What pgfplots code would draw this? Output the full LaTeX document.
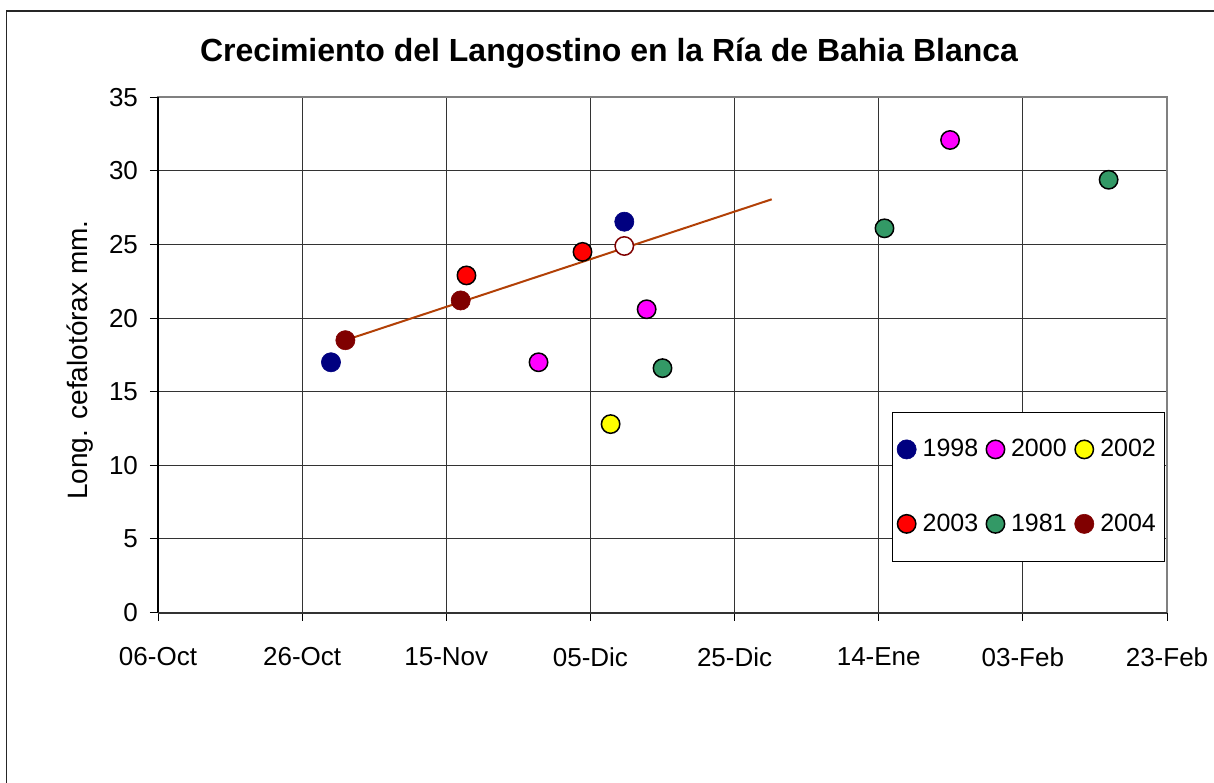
\documentclass[border=0pt]{standalone}
\usepackage{pgfplots}
\pgfplotsset{compat=1.18}
\usepackage{fontspec}
\setmainfont{Liberation Sans}
\definecolor{c1998}{RGB}{0,0,128}
\definecolor{c2000}{RGB}{255,0,255}
\definecolor{c2002}{RGB}{255,255,0}
\definecolor{c2003}{RGB}{255,0,0}
\definecolor{c1981}{RGB}{51,153,102}
\definecolor{c2004}{RGB}{128,0,0}
\definecolor{trend}{RGB}{178,64,6}

\begin{document}
\begin{tikzpicture}
  \useasboundingbox (0,0) rectangle (607pt,-391pt);
  % outer chart frame, runs past the page on the right and bottom
  \draw[black!85, line width=0.75pt] (3.2pt,-5.6pt) rectangle (640pt,-420pt);
  \node[anchor=base, font=\bfseries\fontsize{16}{19}\selectfont]
    at (304.5pt,-30.85pt) {Crecimiento del Langostino en la Ría de Bahia Blanca};
  \begin{axis}[
      at={(79pt,-306.25pt)}, anchor=south west,
      scale only axis, width=504.5pt, height=257.6pt,
      xmin=0, xmax=140, ymin=0, ymax=35,
      xtick={0,20,...,140},
      xticklabels={06-Oct,26-Oct,15-Nov,05-Dic,25-Dic,14-Ene,03-Feb,23-Feb},
      ytick={0,5,...,35},
      xtick pos=bottom, ytick pos=left,
      grid=major,
      major grid style={black!80, line width=0.5pt},
      axis line style={draw=black!50, line width=0.9pt},
      tick align=outside, major tick length=4pt,
      tick style={black, line width=0.5pt},
      tick label style={font=\fontsize{13}{15}\selectfont},
      /pgf/number format/assume math mode=true,
      xticklabel style={yshift=-10pt},
      yticklabel style={xshift=-2.5pt},
      ylabel={Long. cefalotórax mm.},
      every axis y label/.style={at={(axis description cs:-0.0773,0.49)},
        rotate=90, anchor=center, font=\fontsize{14}{16}\selectfont},
      legend columns=3,
      legend image code/.code={\draw[#1] plot coordinates {(0pt,0pt)};},
      legend style={at={(axis description cs:0.727,0.3898)}, anchor=north west,
        draw=black, line width=0.5pt, fill=white,
        font=\fontsize{12.5}{14}\selectfont,
        inner xsep=2.5pt, inner ysep=11.5pt, row sep=23pt,
        /tikz/every odd column/.append style={column sep=1.2pt},
        /tikz/every even column/.append style={column sep=2pt}},
      after end axis/.code={
        \draw[black, line width=0.9pt] (rel axis cs:0,0) -- (rel axis cs:0,1);
        \draw[black!80, line width=1pt] (rel axis cs:0,0) -- (rel axis cs:1,0);
      },
    ]
    \addplot[trend, line width=1pt, forget plot] coordinates {(26,18.5) (85.15,28.07)};
    \addplot[only marks, mark=*, mark size=4.8pt, mark options={fill=c1998, draw=c1998, line width=0.3pt}]
      coordinates {(24,17.0) (64.7,26.55)};
    \addplot[only marks, mark=*, mark size=4.6pt, mark options={fill=c2000, draw=black, line width=0.75pt}]
      coordinates {(52.8,17.0) (67.8,20.6) (109.9,32.1)};
    \addplot[only marks, mark=*, mark size=4.6pt, mark options={fill=c2002, draw=black, line width=0.75pt}]
      coordinates {(62.8,12.8)};
    \addplot[only marks, mark=*, mark size=4.6pt, mark options={fill=c2003, draw=black, line width=0.75pt}]
      coordinates {(42.8,22.9) (58.9,24.5)};
    \addplot[only marks, mark=*, mark size=4.6pt, mark options={fill=c1981, draw=black, line width=0.75pt}]
      coordinates {(70.0,16.6) (100.8,26.1) (131.9,29.4)};
    \addplot[only marks, mark=*, mark size=4.8pt, mark options={fill=c2004, draw=c2004, line width=0.3pt}]
      coordinates {(26,18.5) (42,21.2)};
    \addplot[only marks, mark=*, mark size=4.6pt, forget plot, mark options={fill=white, draw=c2004, line width=0.75pt}]
      coordinates {(64.7,24.9)};
    \legend{1998,2000,2002,2003,1981,2004}
  \end{axis}
\end{tikzpicture}
\end{document}
